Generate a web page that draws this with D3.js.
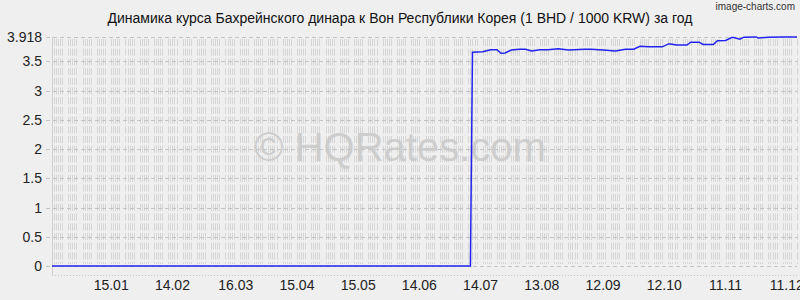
<!DOCTYPE html>
<html>
<head>
<meta charset="utf-8">
<script src="https://cdn.jsdelivr.net/npm/d3@7"></script>
<style>
	body { margin: 0; background: #efefef; }
	svg { display: block; font-family: "Liberation Sans", Arial, sans-serif; }
</style>
</head>
<body>
<svg id="chart"></svg>
<script>
// Rate data (1 BHD / 1000 KRW).
var rateDates = ["2023-12-17", "2024-07-09", "2024-07-10", "2024-07-15", "2024-07-19", "2024-07-22",
	"2024-07-24", "2024-07-26", "2024-07-29", "2024-08-02", "2024-08-05", "2024-08-08", "2024-08-12",
	"2024-08-16", "2024-08-21", "2024-08-26", "2024-09-03", "2024-09-06", "2024-09-12", "2024-09-18",
	"2024-09-23", "2024-09-27", "2024-09-30", "2024-10-04", "2024-10-11", "2024-10-14", "2024-10-15",
	"2024-10-18", "2024-10-23", "2024-10-25", "2024-10-29", "2024-10-31", "2024-11-05", "2024-11-07",
	"2024-11-11", "2024-11-14", "2024-11-15", "2024-11-18", "2024-11-20", "2024-11-26", "2024-11-27",
	"2024-12-02", "2024-12-09", "2024-12-16"];
var rateValues = [0, 0, 3.656, 3.667, 3.70, 3.70,
	3.64, 3.645, 3.695, 3.71, 3.71, 3.68, 3.70,
	3.70, 3.715, 3.695, 3.707, 3.707, 3.695, 3.678,
	3.71, 3.71, 3.76, 3.75, 3.75, 3.80, 3.80,
	3.78, 3.78, 3.83, 3.83, 3.79, 3.79, 3.855,
	3.86, 3.91, 3.91, 3.88, 3.915, 3.92, 3.90,
	3.915, 3.916, 3.918];

// Axis ticks.
var xTickDates = ["2024-01-15", "2024-02-14", "2024-03-16", "2024-04-15", "2024-05-15", "2024-06-14",
	"2024-07-14", "2024-08-13", "2024-09-12", "2024-10-12", "2024-11-11", "2024-12-11"];
var yTickValues = [0, 0.5, 1, 1.5, 2, 2.5, 3, 3.5, 3.918];

var titleText = "Динамика курса Бахрейнского динара к Вон Республики Корея (1 BHD / 1000 KRW) за год";

// Definitions.
var width = 800;
var height = 300;
var plotLeft = 52;
var plotRight = 797;
var plotTop = 37;
var zeroY = 266;
var plotBottom = 275;

var parseDate = d3.timeParse("%Y-%m-%d");
var data = rateDates.map(function(d, i) { return {"date" : parseDate(d), "value" : rateValues[i]}; });

var svg = d3.select("#chart")
	.attr("width", width)
	.attr("height", height);

svg.append("rect")
	.attr("width", width)
	.attr("height", height)
	.attr("fill", "#efefef");

var x = d3.scaleTime()
	.domain(d3.extent(data, function(d) { return d.date; }))
	.range([plotLeft, plotRight]);
var y = d3.scaleLinear()
	.domain([0, 3.918])
	.range([zeroY, plotTop]);

// Daily grid stripes (working days only).
var days = d3.timeDay.range(x.domain()[0], d3.timeDay.offset(x.domain()[1], 1))
	.filter(function(d) { return d.getDay() != 0 && d.getDay() != 6; });
svg.append("g")
	.selectAll("line")
	.data(days)
	.enter()
	.append("line")
	.attr("x1", function(d) { return Math.round(x(d)) + 0.5; })
	.attr("x2", function(d) { return Math.round(x(d)) + 0.5; })
	.attr("y1", plotTop + 2)
	.attr("y2", zeroY - 2)
	.attr("stroke", "#d6d6d6")
	.attr("stroke-width", 1)
	.attr("stroke-dasharray", "7,2.7");

// Horizontal grid lines.
svg.append("g")
	.selectAll("line")
	.data(yTickValues)
	.enter()
	.append("line")
	.attr("x1", plotLeft - 6)
	.attr("x2", plotRight)
	.attr("y1", function(d) { return Math.round(y(d)) + 0.5; })
	.attr("y2", function(d) { return Math.round(y(d)) + 0.5; })
	.attr("stroke", "#c4c4c4")
	.attr("stroke-dasharray", "4,3");

// Left border and dotted bottom border.
svg.append("line")
	.attr("x1", plotLeft + 0.5)
	.attr("x2", plotLeft + 0.5)
	.attr("y1", plotTop)
	.attr("y2", plotBottom)
	.attr("stroke", "#cfcfcf");
svg.append("line")
	.attr("x1", plotLeft)
	.attr("x2", plotRight)
	.attr("y1", plotBottom + 0.5)
	.attr("y2", plotBottom + 0.5)
	.attr("stroke", "#c8c8c8")
	.attr("stroke-dasharray", "1,2");

// Watermark.
svg.append("text")
	.attr("x", 400)
	.attr("y", 161)
	.attr("text-anchor", "middle")
	.attr("font-size", 40)
	.attr("fill", "#c9c9c9")
	.attr("fill-opacity", 0.85)
	.text("© HQRates.com");

// Rate line.
var line = d3.line()
	.x(function(d) { return x(d.date); })
	.y(function(d) { return y(d.value); });
svg.append("path")
	.datum(data)
	.attr("d", line)
	.attr("fill", "none")
	.attr("stroke", "#2323f0")
	.attr("stroke-width", 1.5);

// Y axis labels.
svg.append("g")
	.selectAll("text")
	.data(yTickValues)
	.enter()
	.append("text")
	.attr("x", 42)
	.attr("y", function(d) { return y(d) + 5; })
	.attr("text-anchor", "end")
	.attr("font-size", 14)
	.attr("fill", "#222")
	.text(function(d) { return String(d); });

// X axis labels.
var formatTick = d3.timeFormat("%d.%m");
svg.append("g")
	.selectAll("text")
	.data(xTickDates.map(parseDate))
	.enter()
	.append("text")
	.attr("x", function(d) { return x(d); })
	.attr("y", 290)
	.attr("text-anchor", "middle")
	.attr("font-size", 14)
	.attr("fill", "#222")
	.text(function(d) { return formatTick(d); });

// Title.
svg.append("text")
	.attr("x", 400)
	.attr("y", 23)
	.attr("text-anchor", "middle")
	.attr("font-size", 14)
	.attr("fill", "#111")
	.text(titleText);

svg.append("text")
	.attr("x", 795)
	.attr("y", 10)
	.attr("text-anchor", "end")
	.attr("font-size", 10)
	.attr("fill", "#333")
	.text("image-charts.com");
</script>
</body>
</html>
